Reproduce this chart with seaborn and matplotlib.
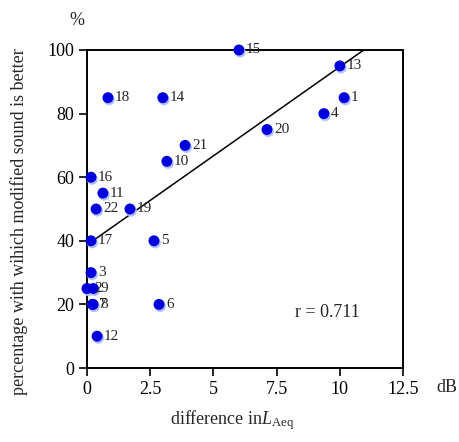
import numpy as np
import pandas as pd
import matplotlib
matplotlib.use("Agg")
import matplotlib.pyplot as plt
import seaborn as sns

# dati
sound_id = [1, 2, 3, 4, 5, 6, 7, 8, 9, 10, 11, 12, 13, 14, 15, 16, 17, 18, 19, 20, 21, 22]
diff_laeq = [10.17, 0.0, 0.16, 9.37, 2.65, 2.85, 0.22, 0.24, 0.25, 3.16, 0.63, 0.4,
             10.0, 3.0, 6.01, 0.16, 0.16, 0.83, 1.7, 7.12, 3.88, 0.36]
pct_better = [85, 25, 30, 80, 40, 20, 20, 20, 25, 65, 55, 10,
              95, 85, 100, 60, 40, 85, 50, 75, 70, 50]
fit_intercept = 38.7
fit_slope = 5.6
r_value = 0.711

df = pd.DataFrame({"id": sound_id, "x": diff_laeq, "y": pct_better})

sns.set_style("ticks")
plt.rcParams["font.family"] = ["Liberation Serif", "DejaVu Serif"]
plt.rcParams["mathtext.fontset"] = "custom"
plt.rcParams["mathtext.rm"] = "Liberation Serif"
plt.rcParams["mathtext.it"] = "Liberation Serif:italic"

fig = plt.figure(figsize=(4.59, 4.42), dpi=100)
ax = fig.add_axes([0.1895, 0.1674, 0.6885, 0.7195])

# linea di regressione fino a 100%
x_end = (100 - fit_intercept) / fit_slope
xs = np.array([0, x_end])
ax.plot(xs, fit_intercept + fit_slope * xs, color="black", lw=1.1, zorder=2)

# punti con un piccolo riflesso
ax.scatter(df["x"] + 0.05, df["y"] - 0.6, s=66, color="#b0c0ff", edgecolor="none",
           zorder=3, clip_on=False)
sns.scatterplot(data=df, x="x", y="y", ax=ax, s=62, color="#0000dd",
                edgecolor="none", zorder=4, clip_on=False, legend=False)

for i, x, y in zip(sound_id, diff_laeq, pct_better):
    ax.annotate(str(i), (x, y), xytext=(5, 0), textcoords="offset points",
                va="center", ha="left", fontsize=11, zorder=5)

ax.set_xlim(0, 12.5)
ax.set_ylim(0, 100)
ax.set_xticks([0, 2.5, 5, 7.5, 10, 12.5])
ax.set_xticklabels(["0", "2.5", "5", "7.5", "10", "12.5"])
ax.set_yticks([0, 20, 40, 60, 80, 100])
ax.tick_params(direction="out", length=6, width=1.2, pad=3, labelsize=13, colors="black")
for sp in ax.spines.values():
    sp.set_visible(True)
    sp.set_linewidth(1.4)
    sp.set_color("black")
ax.set_xlabel("")
ax.set_ylabel("")

fig.text(0.505, 0.05, r"difference in$\mathit{L}_{\mathrm{Aeq}}$", fontsize=13,
         ha="center", va="center")
fig.text(0.041, 0.498, "percentage with wihich modified sound is better", fontsize=13,
         rotation=90, ha="center", va="center")
ax.text(-0.032, 1.094, "%", transform=ax.transAxes, fontsize=13, ha="center", va="center")
ax.text(1.139, -0.06, "dB", transform=ax.transAxes, fontsize=13, ha="center", va="center")
ax.text(9.5, 17.3, f"r = {r_value}", fontsize=13, ha="center", va="center")

fig.savefig("out.png", dpi=100)
